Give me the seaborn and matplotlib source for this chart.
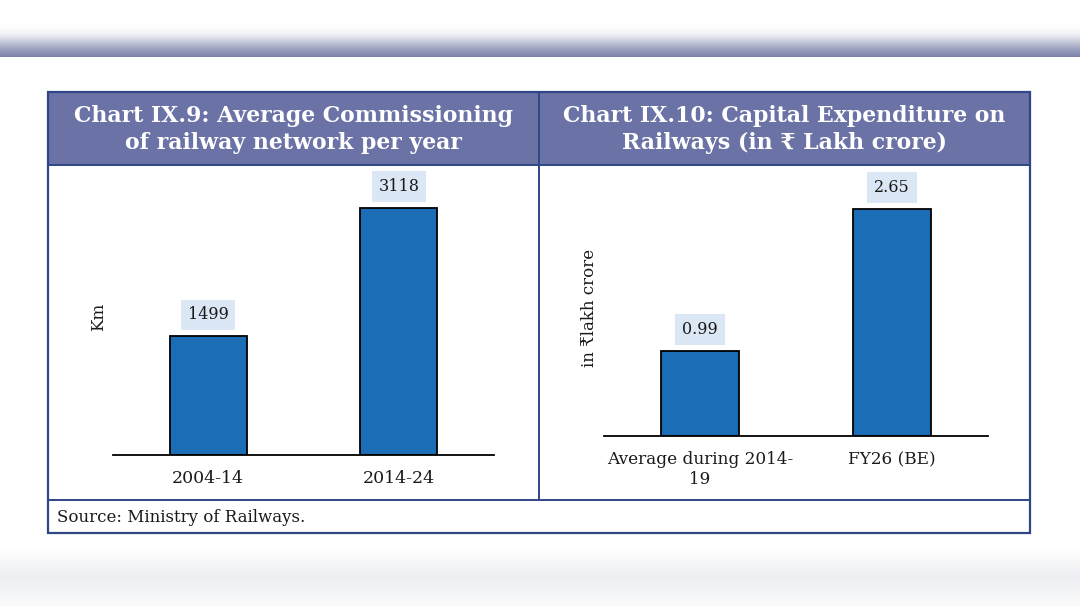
import numpy as np
import pandas as pd
import matplotlib
matplotlib.use("Agg")
import matplotlib.pyplot as plt
from matplotlib.colors import LinearSegmentedColormap
from matplotlib.patches import Rectangle
import seaborn as sns

# ---- data ----
left_title = "Chart IX.9: Average Commissioning\nof railway network per year"
left_categories = ["2004-14", "2014-24"]
left_values = [1499, 3118]
left_ylabel = "Km"

right_title = "Chart IX.10: Capital Expenditure on\nRailways (in ₹ Lakh crore)"
right_categories = ["Average during 2014-\n19", "FY26 (BE)"]
right_values = [0.99, 2.65]
right_value_labels = ["0.99", "2.65"]
right_ylabel = "in ₹lakh crore"

source_text = "Source: Ministry of Railways."

sns.set_theme(style="white")
plt.rcParams['font.family'] = ['DejaVu Serif', 'DejaVu Sans', 'Noto Sans']

W, H = 1080, 607
fig = plt.figure(figsize=(W / 100, H / 100), dpi=100)
fig.patch.set_facecolor("white")

# background axes in pixel coordinates
bg = fig.add_axes([0, 0, 1, 1])
bg.set_xlim(0, W)
bg.set_ylim(H, 0)
bg.axis("off")

# top blurred band
top_cmap = LinearSegmentedColormap.from_list("top", ["#ffffff", "#eceef3", "#c3c6d8", "#9a9ebd", "#7b81aa"])
grad = np.linspace(0, 1, 64) ** 1.1
bg.imshow(grad[:, None], cmap=top_cmap, extent=[0, W, 57, 26], aspect="auto", zorder=0)
# bottom blurred band
bot_cmap = LinearSegmentedColormap.from_list("bot", ["#ffffff", "#f5f6f8", "#eceef2", "#f4f5f7", "#fbfbfc"])
grad2 = np.linspace(0, 1, 64)
bg.imshow(grad2[:, None], cmap=bot_cmap, extent=[0, W, 607, 548], aspect="auto", zorder=0)

navy = "#2f4586"
header_col = "#6a72a6"
# header fill
bg.add_patch(Rectangle((48, 92), 982, 73, facecolor=header_col, edgecolor="none", zorder=1))
# outer frame
bg.add_patch(Rectangle((48, 92), 982, 441, facecolor="none", edgecolor=navy, linewidth=1.6, zorder=3))
# internal lines
bg.plot([539, 539], [92, 500], color=navy, linewidth=1.4, zorder=3)
bg.plot([48, 1030], [165, 165], color=navy, linewidth=1.4, zorder=3)
bg.plot([48, 1030], [500, 500], color=navy, linewidth=1.4, zorder=3)

# header titles
bg.text(293.5, 129.5, left_title, ha="center", va="center", multialignment="center",
        color="white", fontsize=15.8, fontweight="bold", linespacing=1.28, zorder=4)
bg.text(784.5, 129.5, right_title, ha="center", va="center", multialignment="center",
        color="white", fontsize=15.8, fontweight="bold", linespacing=1.28, zorder=4)
# source
bg.text(57, 518, source_text, ha="left", va="center", color="#1a1a1a", fontsize=12, zorder=4)

bar_color = "#1b6db6"
label_bg = "#dbe7f4"


def panel(x0, x1, ybottom, ytop_px, ymax, cats, vals, labels, ylabel, ylabel_x, ticksize):
    rect = [x0 / W, 1 - ybottom / H, (x1 - x0) / W, (ybottom - ytop_px) / H]
    ax = fig.add_axes(rect)
    ax.patch.set_alpha(0)
    df = pd.DataFrame({"cat": cats, "val": vals})
    sns.barplot(data=df, x="cat", y="val", color=bar_color, edgecolor="black",
                linewidth=1.3, width=0.405, saturation=1, ax=ax)
    ax.set_xlim(-0.5, 1.5)
    ax.set_ylim(0, ymax)
    for s in ["top", "right", "left"]:
        ax.spines[s].set_visible(False)
    ax.spines["bottom"].set_color("black")
    ax.spines["bottom"].set_linewidth(1.3)
    ax.set_yticks([])
    ax.set_xlabel("")
    ax.set_ylabel("")
    ax.tick_params(axis="x", length=0, pad=11, labelsize=ticksize, colors="#1a1a1a")
    for i, (v, lab) in enumerate(zip(vals, labels)):
        ax.annotate(lab, xy=(i, v), xytext=(0, 15.5), textcoords="offset points",
                    ha="center", va="center", fontsize=11.5, color="#1a1a1a",
                    bbox=dict(boxstyle="square,pad=0.42", facecolor=label_bg, edgecolor="none"))
    bg.text(ylabel_x, (ybottom + ytop_px) / 2, ylabel, rotation=90, ha="center", va="center",
            fontsize=12, color="#1a1a1a", zorder=4)
    return ax


panel(113, 494, 455, 178, 3500, left_categories, left_values,
      [str(v) for v in left_values], left_ylabel, 99, 12.5)
panel(604, 988, 436, 179, 3.0, right_categories, right_values,
      right_value_labels, right_ylabel, 590, 12.2)

fig.savefig("out.png", dpi=100, facecolor="white")
